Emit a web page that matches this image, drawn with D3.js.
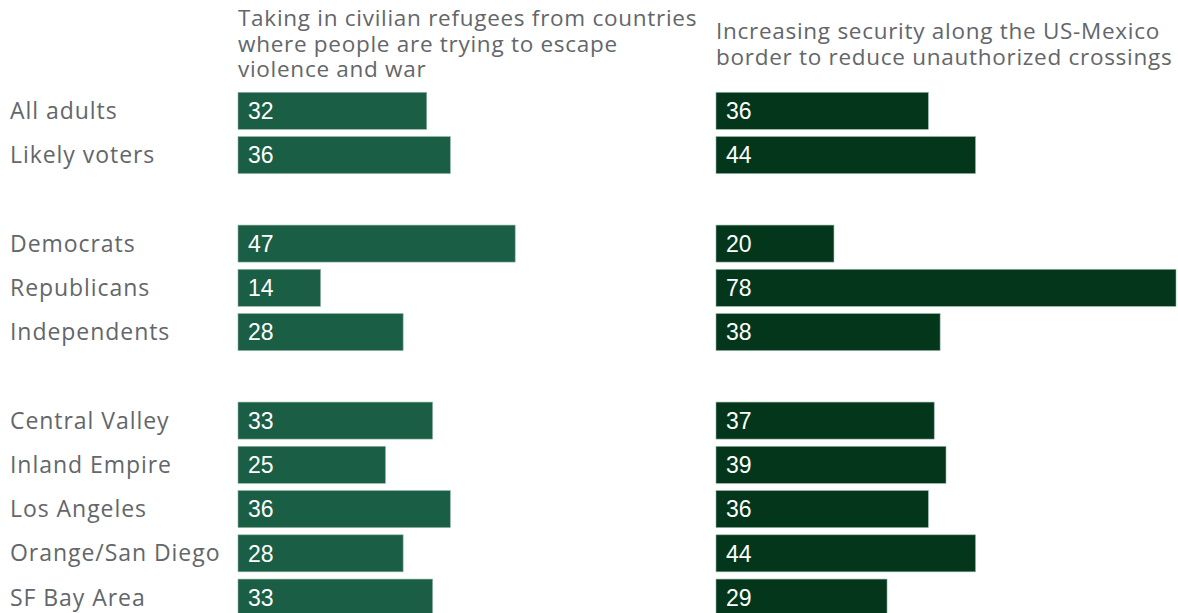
<!DOCTYPE html>
<html>
<head>
<meta charset="utf-8">
<script src="https://cdn.jsdelivr.net/npm/d3@7"></script>
<style>
  html, body { margin: 0; padding: 0; background: #fff; }
  svg { display: block; }
</style>
</head>
<body>
<svg id="chart" width="1178" height="613"></svg>
<script>
const categories = ["All adults", "Likely voters", "", "Democrats", "Republicans", "Independents", " ", "Central Valley", "Inland Empire", "Los Angeles", "Orange/San Diego", "SF Bay Area"];
const refugeesValues = [32, 36, null, 47, 14, 28, null, 33, 25, 36, 28, 33];
const borderValues = [36, 44, null, 20, 78, 38, null, 37, 39, 36, 44, 29];
const panelTitles = [
  ["Taking in civilian refugees from countries", "where people are trying to escape", "violence and war"],
  ["Increasing security along the US-Mexico", "border to reduce unauthorized crossings"]
];
const panelColors = ["#1b5e46", "#03361a"];

const svg = d3.select("#chart");
const y = d3.scaleBand().domain(categories).range([88.7, 88.7 + 44.25 * 12]).paddingInner(0.164).paddingOuter(0.082);
const x = d3.scaleLinear().domain([0, 78]).range([0, 460]);

const labelFont = "'Open Sans', Lato, sans-serif";
const textColor = "#63666a";

// Row labels
svg.append("g").selectAll("text")
  .data(categories.filter(c => c.trim() !== ""))
  .join("text")
  .attr("x", 10)
  .attr("y", d => y(d) + y.bandwidth() / 2)
  .attr("dy", "0.35em")
  .attr("font-family", labelFont)
  .attr("font-size", 23)
  .attr("letter-spacing", 0.95)
  .attr("fill", textColor)
  .text(d => d);

const panels = [
  { x0: 238, values: refugeesValues, title: panelTitles[0], color: panelColors[0] },
  { x0: 716, values: borderValues, title: panelTitles[1], color: panelColors[1] }
];

panels.forEach(p => {
  const g = svg.append("g").attr("transform", `translate(${p.x0},0)`);
  const titleStartY = p.title.length === 3 ? 26 : 39;
  g.append("text")
    .attr("font-family", labelFont)
    .attr("font-size", 22.5)
    .attr("letter-spacing", 0.72)
    .attr("fill", textColor)
    .selectAll("tspan")
    .data(p.title)
    .join("tspan")
    .attr("x", 0)
    .attr("y", (d, i) => titleStartY + i * 25.5)
    .text(d => d);

  const data = categories.map((c, i) => ({ c, v: p.values[i] })).filter(d => d.v != null);
  g.selectAll("rect")
    .data(data)
    .join("rect")
    .attr("x", 0)
    .attr("y", d => y(d.c))
    .attr("width", d => x(d.v))
    .attr("height", y.bandwidth())
    .attr("fill", p.color)
    .attr("stroke", "#8fb3a3")
    .attr("stroke-width", 0.6);

  g.selectAll("text.val")
    .data(data)
    .join("text")
    .attr("class", "val")
    .attr("x", 10)
    .attr("y", d => y(d.c) + y.bandwidth() / 2)
    .attr("dy", "0.36em")
    .attr("font-family", "'Liberation Sans', Arial, sans-serif")
    .attr("font-size", 23)
    .attr("fill", "#fff")
    .text(d => d.v);
});
</script>
</body>
</html>
